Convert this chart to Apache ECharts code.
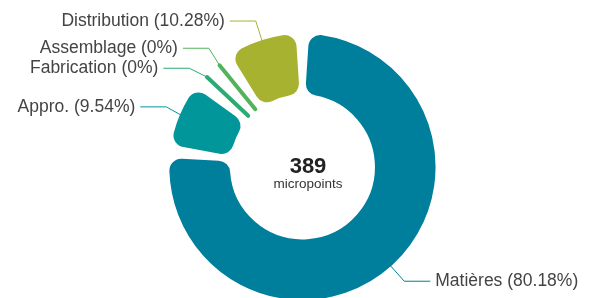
<!DOCTYPE html>
<html>
<head>
<meta charset="utf-8">
<script src="https://cdn.jsdelivr.net/npm/echarts@6/dist/echarts.min.js"></script>
<style>
  html, body { margin: 0; padding: 0; background: #fff; }
  #chart { width: 593px; height: 298px; }
</style>
</head>
<body>
<div id="chart"></div>
<script>
// stages of the footprint, in micropoints
const stages = ['Matières', 'Appro.', 'Fabrication', 'Assemblage', 'Distribution']
const values = [311.9, 37.1, 0, 0, 40]
const colors = ['#007f9c', '#00969a', '#2aab74', '#52b35a', '#a7b230']
const total = '389'
const unit = 'micropoints'

const chart = echarts.init(document.getElementById('chart'))

chart.setOption({
  animation: false,
  title: {
    text: total,
    subtext: unit,
    left: 303,
    top: 151,
    textAlign: 'center',
    itemGap: -1,
    textStyle: { fontSize: 22, fontWeight: 'bold', color: '#222', fontFamily: 'Liberation Sans' },
    subtextStyle: { fontSize: 13.5, color: '#333', fontFamily: 'Liberation Sans' }
  },
  series: [
    {
      type: 'pie',
      center: ['51%', '56%'],
      radius: ['50%', '88%'],
      startAngle: 90,
      padAngle: 7.5,
      itemStyle: { borderRadius: 10, borderWidth: 4, borderJoin: 'round', borderCap: 'round' },
      label: {
        formatter: '{b} ({d}%)',
        fontSize: 17.5,
        color: '#444',
        fontFamily: 'Liberation Sans',
        overflow: 'none'
      },
      labelLine: { length: 22, length2: 26, lineStyle: { width: 1 } },
      data: stages.map((name, i) => ({
        name,
        value: values[i],
        itemStyle: { color: colors[i], borderColor: colors[i] }
      }))
    }
  ]
})
</script>
</body>
</html>
